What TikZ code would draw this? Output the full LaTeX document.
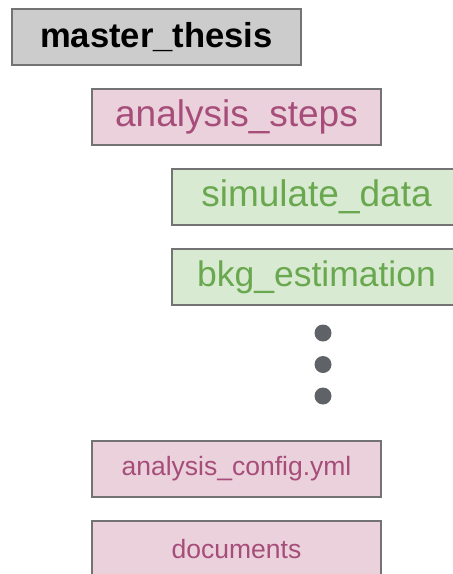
\documentclass[tikz,border=0pt]{standalone}
\usepackage{fontspec}
\setmainfont{Liberation Sans}
\definecolor{bordergray}{HTML}{737373}
\definecolor{graybg}{HTML}{CCCCCC}
\definecolor{pinkbg}{HTML}{EAD1DC}
\definecolor{pinktxt}{HTML}{A64D79}
\definecolor{greenbg}{HTML}{D9EAD3}
\definecolor{greentxt}{HTML}{6AA84F}
\definecolor{dotgray}{HTML}{5F6368}
\tikzset{
  folder/.style={draw=bordergray, line width=1.3pt, minimum width=289pt, minimum height=56pt, inner sep=0pt, anchor=center},
  rootbox/.style={folder, fill=graybg, text=black, font=\fontsize{34.6}{40}\selectfont\bfseries},
  pinkbox/.style={folder, fill=pinkbg, text=pinktxt, font=\fontsize{37}{42}\selectfont},
  pinksmall/.style={folder, fill=pinkbg, text=pinktxt, font=\fontsize{26.5}{30}\selectfont},
  greenbox/.style={folder, fill=greenbg, text=greentxt, font=\fontsize{37}{42}\selectfont},
  dotmark/.style={circle, fill=dotgray, minimum size=17pt, inner sep=0pt}
}
\begin{document}
\begin{tikzpicture}[x=1pt,y=-1pt]
\useasboundingbox (0,0) rectangle (453,574);
\clip (0,0) rectangle (453,574);
\node[rootbox] (master) at (156.5,37) {master\_thesis};
\node[pinkbox] (steps) at (236.5,117) {analysis\_steps};
\node[greenbox] (sim) at (316.5,197) {simulate\_data};
\node[greenbox, font=\fontsize{35.5}{40}\selectfont] (bkg) at (316.5,277) {bkg\_estimation};
\node[dotmark] (d1) at (323,333) {};
\node[dotmark] (d2) at (323,364.5) {};
\node[dotmark] (d3) at (323,396) {};
\node[pinksmall] (config) at (236.5,469) {analysis\_config.yml};
\node[pinksmall] (docs) at (236.5,549) {documents};
\end{tikzpicture}
\end{document}
